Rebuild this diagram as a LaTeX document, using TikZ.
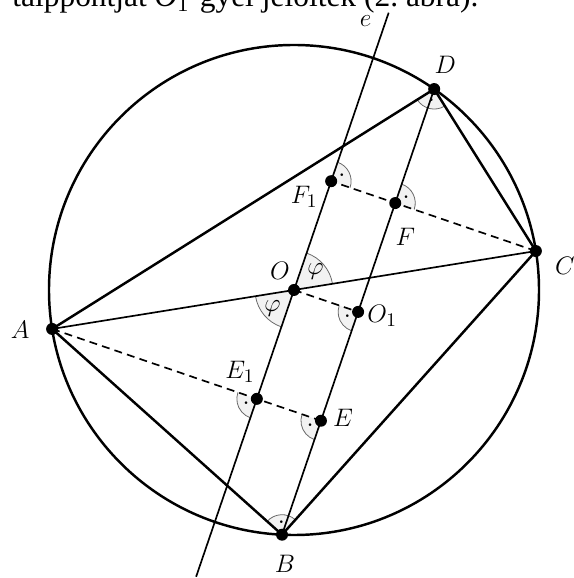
\documentclass[tikz,border=0pt]{standalone}
\usepackage{amsmath,amssymb}
\usepackage{fontspec}
\usepackage{tikz}
\usetikzlibrary{calc,angles,quotes}
\newfontfamily\pagefont{Liberation Serif}
\definecolor{markfill}{RGB}{242,242,242}
\definecolor{markline}{RGB}{105,105,105}

\tikzset{
  every node/.style={font=\fontsize{15}{18}\selectfont},
  sideline/.style={line width=1.4pt},
  auxline/.style={line width=0.95pt},
  dashline/.style={line width=0.95pt, dash pattern=on 4.5pt off 3pt},
  rightmark/.style={draw=markline, fill=markfill, line width=0.45pt,
    angle radius=0.4cm, angle eccentricity=0.6},
  phimark/.style={draw=markline, fill=markfill, line width=0.45pt,
    angle radius=0.78cm, angle eccentricity=0.72},
}

\begin{document}
\begin{tikzpicture}
\useasboundingbox (-5.88,-5.76) rectangle (5.58,5.80);
\clip (-5.88,-5.76) rectangle (5.58,5.80);

% points of the circle, AC is a diameter
\def\R{4.9}
\coordinate (O) at (0,0);
\coordinate (A) at (189.15:\R);
\coordinate (C) at (9.15:\R);
\coordinate (B) at (267.2:\R);
\coordinate (D) at (55.1:\R);
\coordinate (u) at ($(D)-(B)$);
\coordinate (eTop) at ($(O)!5.86cm!(u)$);
\coordinate (eBot) at ($(O)!-6.06cm!(u)$);
\coordinate (O1) at ($(B)!(O)!(D)$);
\coordinate (E) at ($(B)!(A)!(D)$);
\coordinate (F) at ($(B)!(C)!(D)$);
\coordinate (E1) at ($(eBot)!(A)!(eTop)$);
\coordinate (F1) at ($(eBot)!(C)!(eTop)$);

% angle marks
\pic["$\cdot$", rightmark] {angle=A--D--C};
\pic["$\cdot$", rightmark] {angle=C--B--A};
\pic["$\cdot$", rightmark] {angle=A--E1--eBot};
\pic["$\cdot$", rightmark] {angle=A--E--B};
\pic["$\cdot$", rightmark] {angle=O--O1--B};
\pic["$\cdot$", rightmark] {angle=C--F1--eTop};
\pic["$\cdot$", rightmark] {angle=C--F--D};
\pic["$\varphi$", phimark] {angle=C--O--eTop};
\pic["$\varphi$", phimark] {angle=A--O--eBot};

\draw[sideline] (O) circle (\R);
\draw[sideline] (A) -- (B) -- (C) -- (D) -- cycle;
\draw[auxline] (A) -- (C);
\draw[auxline] (eBot) -- (eTop);
\draw[auxline] (B) -- (D);
\draw[dashline] (A) -- (E);
\draw[dashline] (C) -- (F1);
\draw[dashline] (O) -- (O1);

\foreach \p in {A,B,C,D,O,O1,E,E1,F,F1}
  \fill (\p) circle (0.12);

\node (labA) at ($(A)+(-0.64,-0.02)$) {$A$};
\node (labB) at ($(B)+(0.06,-0.58)$) {$B$};
\node (labC) at ($(C)+(0.58,-0.30)$) {$C$};
\node (labD) at ($(D)+(0.22,0.48)$) {$D$};
\node (labO) at ($(O)+(-0.28,0.38)$) {$O$};
\node (labO1) at ($(O1)+(0.48,-0.08)$) {$O_1$};
\node (labE1) at ($(E1)+(-0.34,0.54)$) {$E_1$};
\node (labE) at ($(E)+(0.44,0.06)$) {$E$};
\node (labF1) at ($(F1)+(-0.54,-0.32)$) {$F_1$};
\node (labF) at ($(F)+(0.20,-0.68)$) {$F$};
\node (labe) at ($(eTop)+(-0.46,-0.16)$) {$e$};

% cut line of the page text above the figure
\node[anchor=base west, inner sep=0pt] (pagetext) at (-5.64,5.66)
  {\pagefont\fontsize{17.9}{21}\selectfont talppontjat \textit{O}\textsubscript{1}-gyel jelölték (2.~ábra).};
\end{tikzpicture}
\end{document}
